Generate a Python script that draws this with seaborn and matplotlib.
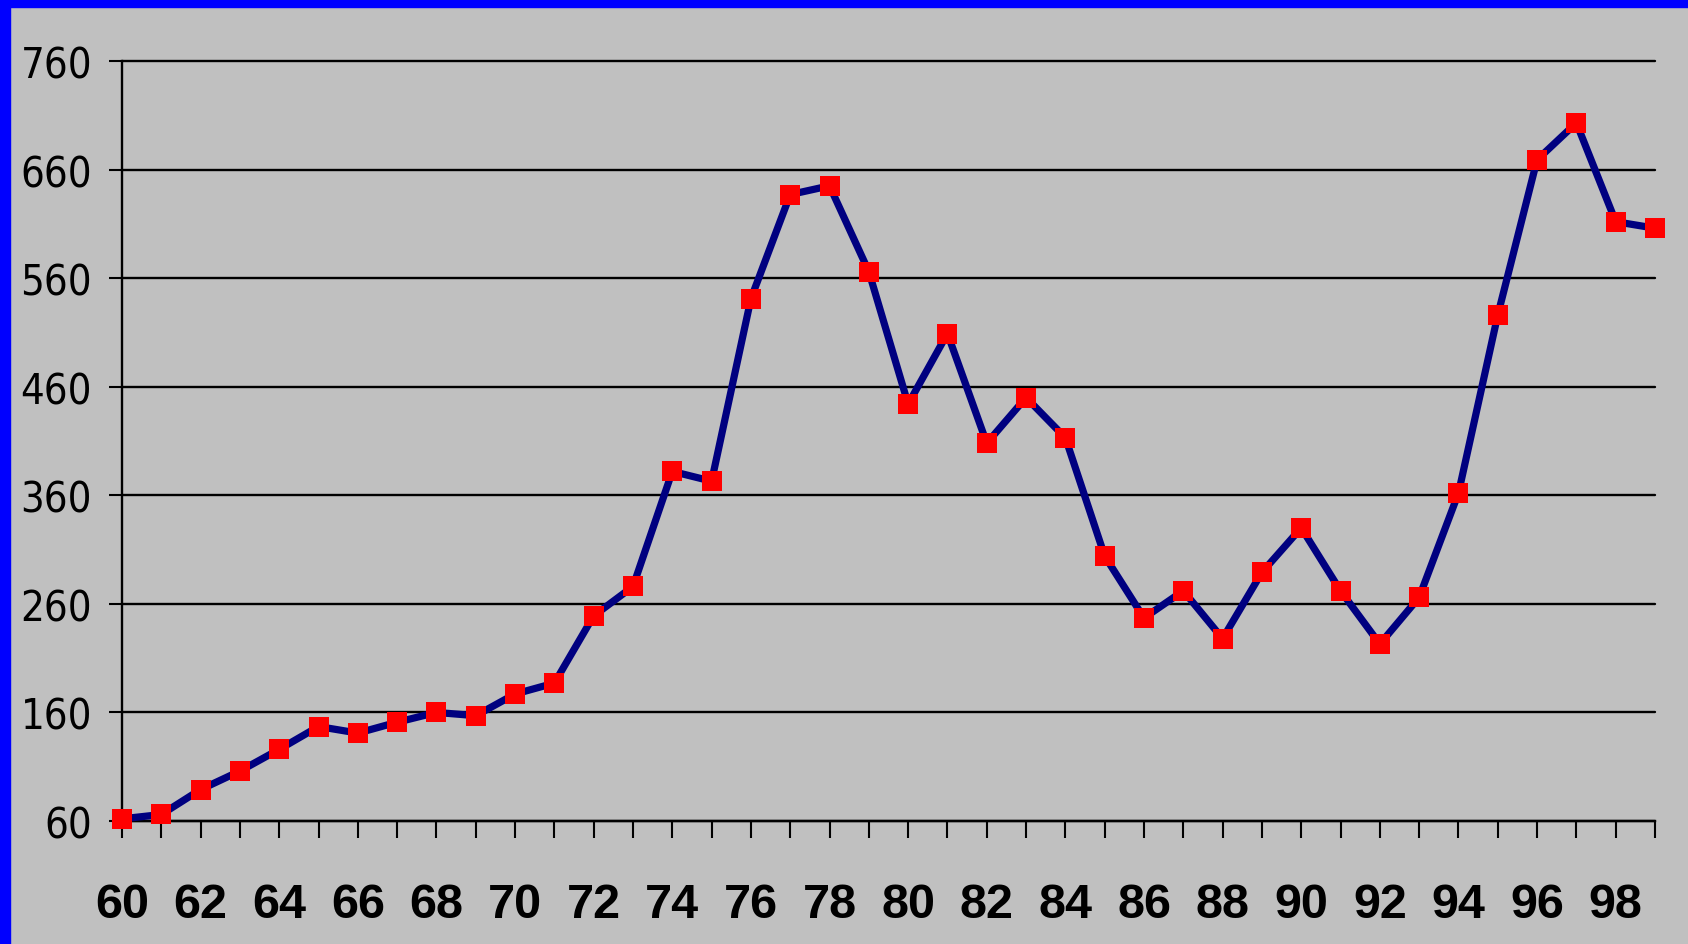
import matplotlib
matplotlib.use("Agg")
import matplotlib.pyplot as plt
import seaborn as sns
import pandas as pd
from matplotlib.ticker import MultipleLocator, FuncFormatter
from matplotlib import font_manager as fm

years = list(range(60, 100))
values = [62, 66, 89, 106, 126, 147, 141, 151, 160, 157,
          177, 187, 249, 276, 382, 373, 541, 637, 645, 566,
          444, 509, 408, 450, 413, 304, 247, 272, 228, 289,
          330, 272, 223, 266, 362, 526, 669, 703, 612, 606]
y_ticks = [60, 160, 260, 360, 460, 560, 660, 760]

df = pd.DataFrame({"year": years, "value": values})

sns.set_theme(style="white")

# find a condensed / narrow font for the y tick labels
narrow = None
for f in fm.fontManager.ttflist:
    nm = f.name.lower()
    st = str(f.stretch).lower()
    if ("narrow" in nm or "condensed" in nm or "condensed" in st or "narrow" in st) \
            and f.weight in (400, "normal", "regular", "book") and f.style == "normal":
        narrow = f
        break
if narrow is not None:
    yprop = fm.FontProperties(fname=narrow.fname, size=30)
else:
    yprop = fm.FontProperties(family="DejaVu Sans", size=26)

W, H, DPI = 1688, 945, 100
fig = plt.figure(figsize=(W / DPI, H / DPI), dpi=DPI, facecolor="#C0C0C0")
ax = fig.add_axes([122 / W, 1 - 822 / H, (1655 - 122) / W, (822 - 62) / H])
ax.set_facecolor("#C0C0C0")

# blue strips (top and left frame)
fig.patches.append(plt.Rectangle((0, 1 - 8 / H), 1, 8 / H, transform=fig.transFigure,
                                 color="#0000FF", zorder=0))
fig.patches.append(plt.Rectangle((0, 0), 10 / W, 1, transform=fig.transFigure,
                                 color="#0000FF", zorder=0))

for t in y_ticks:
    ax.axhline(t, color="black", lw=1.7, zorder=1)

sns.lineplot(data=df, x="year", y="value", ax=ax, color="#000080", lw=5.2,
             marker="s", markersize=14, markerfacecolor="#FF0000",
             markeredgecolor="#FF0000", markeredgewidth=0, zorder=3)
for ln in ax.lines:
    ln.set_clip_on(False)

ax.set_xlim(60, 99)
ax.set_ylim(60, 760)
ax.set_xlabel("")
ax.set_ylabel("")
ax.set_yticks(y_ticks)
ax.xaxis.set_major_locator(MultipleLocator(1))
ax.xaxis.set_major_formatter(FuncFormatter(lambda v, p: f"{int(round(v))}" if int(round(v)) % 2 == 0 else ""))

for s in ["top", "right"]:
    ax.spines[s].set_visible(False)
for s in ["left", "bottom"]:
    ax.spines[s].set_color("black")
    ax.spines[s].set_linewidth(1.7)

ax.tick_params(axis="x", direction="out", length=12, width=1.5, color="black", pad=32,
               bottom=True)
ax.tick_params(axis="y", direction="out", length=9.5, width=1.5, color="black", pad=12,
               left=True)
for lab in ax.get_yticklabels():
    lab.set_fontproperties(yprop)
    lab.set_color("black")
for lab in ax.get_xticklabels():
    lab.set_fontfamily(["Liberation Sans", "DejaVu Sans"])
    lab.set_fontweight("bold")
    lab.set_fontsize(35)
    lab.set_color("black")

fig.savefig("out.png", dpi=DPI, facecolor="#C0C0C0")
